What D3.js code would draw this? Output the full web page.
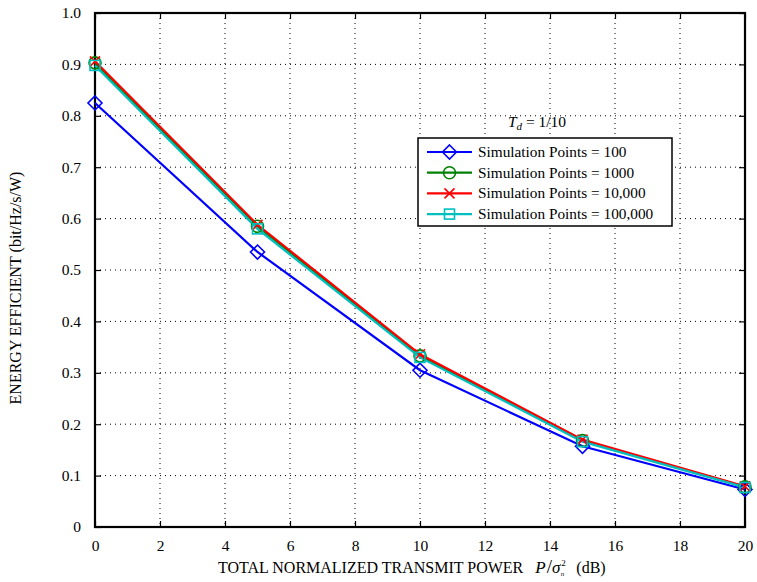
<!DOCTYPE html>
<html><head><meta charset="utf-8">
<script src="https://cdn.jsdelivr.net/npm/d3@7/dist/d3.min.js"></script>
<style>body{margin:0;background:#fff}svg{display:block}text{font-family:"Liberation Serif","Times New Roman",serif}</style>
</head><body><svg id="c" width="757" height="582"></svg>
<script>
const xValues = [0, 5, 10, 15, 20];
const series100 = [0.825, 0.535, 0.305, 0.157, 0.073];
const series1000 = [0.903, 0.585, 0.333, 0.168, 0.078];
const series10000 = [0.906, 0.588, 0.336, 0.170, 0.079];
const series100000 = [0.898, 0.580, 0.330, 0.166, 0.077];
const seriesNames = ["Simulation Points = 100", "Simulation Points = 1000", "Simulation Points = 10,000", "Simulation Points = 100,000"];
const xTicks = [0, 2, 4, 6, 8, 10, 12, 14, 16, 18, 20];
const yTicks = [0, 0.1, 0.2, 0.3, 0.4, 0.5, 0.6, 0.7, 0.8, 0.9, 1.0];

const svg = d3.select("#c");
const L = 95, R = 745, T = 13, B = 527;
const x = d3.scaleLinear().domain([0, 20]).range([L, R]);
const y = d3.scaleLinear().domain([0, 1]).range([B, T]);

// grid
const g = svg.append("g");
g.selectAll(".vg").data(xTicks.slice(1, -1)).enter().append("line")
  .attr("x1", d => x(d)).attr("x2", d => x(d)).attr("y1", T).attr("y2", B)
  .attr("stroke", "#000").attr("stroke-width", 1).attr("stroke-dasharray", "1,4");
g.selectAll(".hg").data(yTicks.slice(1, -1)).enter().append("line")
  .attr("y1", d => y(d)).attr("y2", d => y(d)).attr("x1", L).attr("x2", R)
  .attr("stroke", "#000").attr("stroke-width", 1).attr("stroke-dasharray", "1,4");

// axes
const fmtY = d => d === 0 ? "0" : d3.format(".1f")(d);
const ax = svg.append("g").attr("transform", `translate(0,${B})`)
  .call(d3.axisBottom(x).tickValues(xTicks).tickSize(-6).tickPadding(13).tickFormat(d3.format("d")));
const ay = svg.append("g").attr("transform", `translate(${L},0)`)
  .call(d3.axisLeft(y).tickValues(yTicks).tickSize(-6).tickPadding(14).tickFormat(fmtY));
const at = svg.append("g").attr("transform", `translate(0,${T})`)
  .call(d3.axisTop(x).tickValues(xTicks).tickSize(-6).tickFormat(""));
const ar = svg.append("g").attr("transform", `translate(${R},0)`)
  .call(d3.axisRight(y).tickValues(yTicks).tickSize(-6).tickFormat(""));
[ax, ay, at, ar].forEach(a => {
  a.select(".domain").remove();
  a.selectAll("line").attr("stroke", "#000").attr("stroke-width", 1.2);
  a.selectAll("text").attr("fill", "#000").style("font-size", "15.5px").style("font-family", "Liberation Serif, serif");
});
svg.append("rect").attr("x", L).attr("y", T).attr("width", R - L).attr("height", B - T)
  .attr("fill", "none").attr("stroke", "#000").attr("stroke-width", 2.2);

// series
const all = [
  {vals: series100, color: "#0000ff", marker: "diamond"},
  {vals: series1000, color: "#008000", marker: "circle"},
  {vals: series10000, color: "#ff0000", marker: "x"},
  {vals: series100000, color: "#00bfbf", marker: "square"}
];
function drawMarker(sel, m, cx, cy, color) {
  if (m === "diamond") sel.append("path").attr("d", `M${cx},${cy-7}L${cx+7},${cy}L${cx},${cy+7}L${cx-7},${cy}Z`).attr("fill", "none").attr("stroke", color).attr("stroke-width", 1.6);
  else if (m === "circle") sel.append("circle").attr("cx", cx).attr("cy", cy).attr("r", 6).attr("fill", "none").attr("stroke", color).attr("stroke-width", 1.6);
  else if (m === "x") sel.append("path").attr("d", `M${cx-5},${cy-5}L${cx+5},${cy+5}M${cx-5},${cy+5}L${cx+5},${cy-5}`).attr("stroke", color).attr("stroke-width", 1.6);
  else if (m === "square") sel.append("rect").attr("x", cx - 5).attr("y", cy - 5).attr("width", 10).attr("height", 10).attr("fill", "none").attr("stroke", color).attr("stroke-width", 1.6);
}
const line = d3.line().x((d, i) => x(xValues[i])).y(d => y(d));
all.forEach(s => {
  svg.append("path").datum(s.vals).attr("d", line).attr("fill", "none").attr("stroke", s.color).attr("stroke-width", 2.2);
});
all.forEach(s => {
  const mg = svg.append("g");
  s.vals.forEach((v, i) => drawMarker(mg, s.marker, x(xValues[i]), y(v), s.color));
});

// legend
const lx = 418, ly = 138, lw = 254, lh = 88;
const tdText = svg.append("text").attr("x", 537).attr("y", 127).attr("text-anchor", "middle").style("font-size", "15.5px");
tdText.append("tspan").attr("font-style", "italic").text("T");
tdText.append("tspan").attr("font-style", "italic").attr("dy", 3).style("font-size", "11px").text("d");
tdText.append("tspan").attr("dy", -3).text(" = 1/10");
svg.append("rect").attr("x", lx).attr("y", ly).attr("width", lw).attr("height", lh)
  .attr("fill", "#fff").attr("stroke", "#000").attr("stroke-width", 1.5);
all.forEach((s, i) => {
  const yy = 152 + i * 20.7;
  svg.append("line").attr("x1", 427).attr("x2", 472).attr("y1", yy).attr("y2", yy).attr("stroke", s.color).attr("stroke-width", 2.2);
  drawMarker(svg, s.marker, 449.5, yy, s.color);
  svg.append("text").attr("x", 478).attr("y", yy + 5).style("font-size", "15.3px").text(seriesNames[i]);
});

// axis labels
svg.append("text").attr("transform", "translate(21,288) rotate(-90)").attr("text-anchor", "middle")
  .style("font-size", "16px").text("ENERGY EFFICIENT (bit/Hz/s/W)");
const xl = svg.append("text").attr("x", 218).attr("y", 573).style("font-size", "16px");
xl.append("tspan").text("TOTAL NORMALIZED TRANSMIT POWER");
xl.append("tspan").attr("dx", 12).attr("font-style", "italic").style("font-size", "17px").text("P");
xl.append("tspan").style("font-size", "19px").attr("dx", 1).text("/");
xl.append("tspan").attr("font-style", "italic").style("font-size", "17px").text("σ");
xl.append("tspan").style("font-size", "9px").attr("dx", 1).attr("dy", -7).text("2");
xl.append("tspan").style("font-size", "7px").attr("font-style", "italic").attr("dx", -5).attr("dy", 10).text("n");
xl.append("tspan").attr("dy", -3).attr("dx", 12).text("(dB)");
</script></body></html>
